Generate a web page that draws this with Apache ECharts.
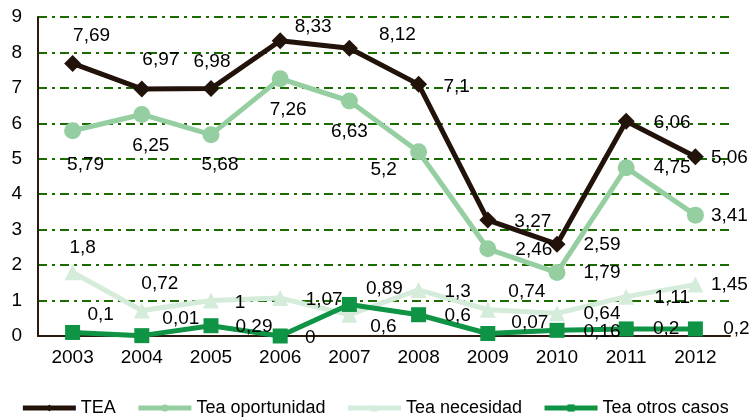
<!DOCTYPE html>
<html>
<head>
<meta charset="utf-8">
<script src="https://cdn.jsdelivr.net/npm/echarts@6/dist/echarts.min.js"></script>
<style>
  html, body { margin: 0; padding: 0; background: #fff; }
  #chart { width: 749px; height: 417px; }
</style>
</head>
<body>
<div id="chart"></div>
<script>
const years = ['2003', '2004', '2005', '2006', '2007', '2008', '2009', '2010', '2011', '2012'];
const tea = [7.69, 6.97, 6.98, 8.33, 8.12, 7.1, 3.27, 2.59, 6.06, 5.06];
const oportunidad = [5.79, 6.25, 5.68, 7.26, 6.63, 5.2, 2.46, 1.79, 4.75, 3.41];
const necesidad = [1.8, 0.72, 1, 1.07, 0.6, 1.3, 0.74, 0.64, 1.11, 1.45];
const otrosCasos = [0.1, 0.01, 0.29, 0, 0.89, 0.6, 0.07, 0.16, 0.2, 0.2];

// donde cae cada etiqueta respecto a su punto (px)
const teaShift = [[19, -28], [19, -29], [1, -27], [33, -14], [48, -13], [38, 2], [45, 2], [45, 1], [46, 2], [34, 1]];
const oporShift = [[13, 34], [9, 31], [9, 30], [8, 31], [0, 31], [-35, 18], [46, 1], [45, 0], [46, 0], [34, 1]];
const necShift = [[10, -24], [18, -27], [29, 2], [44, 2], [34, 12], [39, 2], [39, -18], [45, 0], [46, 1], [34, 0]];
const otrosShift = [[28, -18], [39, -17], [43, 1], [30, 2], [35, -16], [39, 1], [42, -11], [45, 1], [40, 0], [41, 0]];

function withLabels(values, shifts) {
  return values.map((v, i) => ({
    value: v,
    label: { offset: shifts[i] }
  }));
}

const labelStyle = {
  show: true,
  position: 'inside',
  color: '#000',
  fontSize: 19,
  fontFamily: 'Liberation Sans, Arial, sans-serif',
  formatter: p => String(p.value).replace('.', ',')
};

function serie(name, values, shifts, color, symbol, size) {
  return {
    name: name,
    type: 'line',
    data: withLabels(values, shifts),
    symbol: symbol,
    symbolSize: size,
    color: color,
    lineStyle: { color: color, width: 5 },
    itemStyle: { color: color },
    label: labelStyle,
    emphasis: { disabled: true },
    animation: false
  };
}

const chart = echarts.init(document.getElementById('chart'));
chart.setOption({
  animation: false,
  textStyle: { fontFamily: 'Liberation Sans, Arial, sans-serif' },
  grid: { left: 38, right: 19, top: 17, bottom: 81 },
  legend: {
    bottom: -5,
    left: 'center',
    itemWidth: 53,
    itemHeight: 9,
    itemGap: 20,
    lineStyle: { width: 5 },
    textStyle: { fontSize: 18, color: '#000' },
    data: ['TEA', 'Tea oportunidad', 'Tea necesidad', 'Tea otros casos']
  },
  xAxis: {
    type: 'category',
    data: years,
    boundaryGap: true,
    axisLine: { lineStyle: { color: '#2a1a10', width: 2 } },
    axisTick: { show: false },
    axisLabel: { fontSize: 19, color: '#000', margin: 12 }
  },
  yAxis: {
    type: 'value',
    min: 0,
    max: 9,
    interval: 1,
    axisLine: { show: true, lineStyle: { color: '#2a1a10', width: 2 } },
    axisTick: { show: false },
    axisLabel: { fontSize: 19, color: '#000', margin: 16 },
    splitLine: { lineStyle: { color: '#1a6b00', width: 2, type: [9, 5, 3, 5] } }
  },
  series: [
    serie('TEA', tea, teaShift, '#22130a', 'diamond', 17),
    serie('Tea oportunidad', oportunidad, oporShift, '#95cea0', 'circle', 17),
    serie('Tea necesidad', necesidad, necShift, '#d4ecd9', 'triangle', 16),
    serie('Tea otros casos', otrosCasos, otrosShift, '#0e9444', 'rect', 15)
  ]
});
</script>
</body>
</html>
